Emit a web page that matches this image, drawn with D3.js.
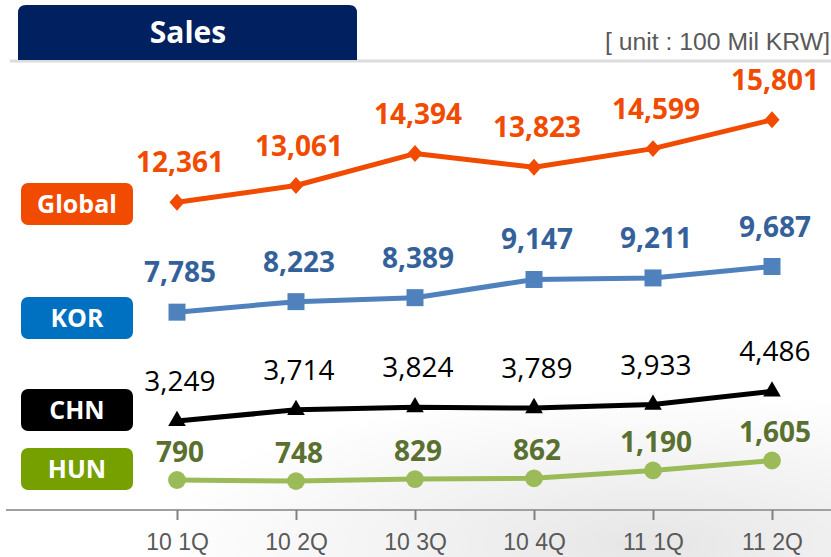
<!DOCTYPE html>
<html>
<head>
<meta charset="utf-8">
<script src="https://cdn.jsdelivr.net/npm/d3@7"></script>
<style>
body { margin: 0; background: #fff; }
</style>
</head>
<body>
<div id="chart"></div>
<script>
// quarterly sales, unit: 100 Mil KRW
var quarters = ["10 1Q", "10 2Q", "10 3Q", "10 4Q", "11 1Q", "11 2Q"];
var seriesNames = ["Global", "KOR", "CHN", "HUN"];
var globalSales = [12361, 13061, 14394, 13823, 14599, 15801];
var korSales = [7785, 8223, 8389, 9147, 9211, 9687];
var chnSales = [3249, 3714, 3824, 3789, 3933, 4486];
var hunSales = [790, 748, 829, 862, 1190, 1605];

var width = 831, height = 557;

var svg = d3.select("#chart").append("svg")
    .attr("width", width)
    .attr("height", height)
    .style("font-family", "'Open Sans', 'Noto Sans', sans-serif");

// faint grey backdrop in the lower part
var defs = svg.append("defs");
var bg = defs.append("radialGradient")
    .attr("id", "bg-grad")
    .attr("cx", "78%").attr("cy", "95%").attr("r", "60%");
bg.append("stop").attr("offset", "0%").attr("stop-color", "#e6e6e6");
bg.append("stop").attr("offset", "55%").attr("stop-color", "#f4f4f4");
bg.append("stop").attr("offset", "100%").attr("stop-color", "#ffffff");

svg.append("rect")
    .attr("width", width).attr("height", height)
    .attr("fill", "#fff");
svg.append("rect")
    .attr("y", 300)
    .attr("width", width).attr("height", height - 300)
    .attr("fill", "url(#bg-grad)");

// header
svg.append("line")
    .attr("x1", 10).attr("x2", width)
    .attr("y1", 61).attr("y2", 61)
    .attr("stroke", "#dcdcdc")
    .attr("stroke-width", 3);

var bx0 = 18, bx1 = 357, by0 = 5, by1 = 60, r = 8;
svg.append("path")
    .attr("d", "M" + bx0 + "," + by1 + "V" + (by0 + r) + "Q" + bx0 + "," + by0 + " " + (bx0 + r) + "," + by0 +
        "H" + (bx1 - r) + "Q" + bx1 + "," + by0 + " " + bx1 + "," + (by0 + r) + "V" + by1 + "Z")
    .attr("fill", "#01205f");

svg.append("text")
    .text("Sales")
    .attr("x", 188)
    .attr("y", 43)
    .attr("text-anchor", "middle")
    .attr("fill", "#fff")
    .attr("font-weight", "bold")
    .attr("font-size", "30px");

svg.append("text")
    .text("[ unit : 100 Mil KRW]")
    .attr("x", 830)
    .attr("y", 50)
    .attr("text-anchor", "end")
    .attr("textLength", 225)
    .attr("lengthAdjust", "spacingAndGlyphs")
    .attr("fill", "#595959")
    .attr("font-family", "'Liberation Sans', Arial, sans-serif")
    .attr("font-size", "23px");

// scales
var xScale = d3.scalePoint().domain(quarters).range([177, 772]);
var yScale = d3.scaleLinear().domain([0, 16000]).range([499, 115]);

// x axis
svg.append("line")
    .attr("x1", 6).attr("x2", width)
    .attr("y1", 510).attr("y2", 510)
    .attr("stroke", "#a0a0a0")
    .attr("stroke-width", 2);

var xAxis = svg.append("g")
    .attr("transform", "translate(0,510)")
    .call(d3.axisBottom(xScale).tickSizeInner(10).tickSizeOuter(0).tickPadding(14));
xAxis.select(".domain").remove();
xAxis.selectAll(".tick line")
    .attr("stroke", "#808080")
    .attr("stroke-width", 2);
xAxis.selectAll(".tick text")
    .attr("fill", "#595959")
    .attr("font-family", "'Liberation Sans', Arial, sans-serif")
    .attr("font-size", "23px");

// series styling
var seriesData = [globalSales, korSales, chnSales, hunSales];
var lineColors = ["#f04b00", "#4f81bd", "#000000", "#9bbb59"];
var labelColors = ["#f04b00", "#34619a", "#000000", "#5a7030"];
var badgeColors = ["#f04b00", "#0070c0", "#000000", "#76a000"];
var badgeY = [204, 318, 410, 469];

var series = seriesNames.map(function (name, i) {
    return {
        name: name,
        values: seriesData[i].map(function (v, j) { return { q: quarters[j], v: v }; }),
        line: lineColors[i],
        label: labelColors[i],
        badge: badgeColors[i],
        bold: name != "CHN",
        labelDy: name == "HUN" ? -18 : -30
    };
});

var lineGenerator = d3.line()
    .x(function (d) { return xScale(d.q); })
    .y(function (d) { return yScale(d.v); });

var markerShapes = {
    "Global": d3.symbol().type(d3.symbolSquare).size(115),
    "KOR": d3.symbol().type(d3.symbolSquare).size(289),
    "CHN": d3.symbol().type(d3.symbolTriangle).size(135),
    "HUN": d3.symbol().type(d3.symbolCircle).size(250)
};

series.forEach(function (s) {
    var g = svg.append("g").attr("class", "series");

    g.append("path")
        .attr("d", lineGenerator(s.values))
        .attr("fill", "none")
        .attr("stroke", s.line)
        .attr("stroke-width", 5)
        .attr("stroke-linejoin", "round");

    g.selectAll(".marker").data(s.values)
        .enter().append("path")
        .attr("class", "marker")
        .attr("d", markerShapes[s.name])
        .attr("transform", function (d) {
            var t = "translate(" + xScale(d.q) + "," + yScale(d.v) + ")";
            if (s.name == "Global") t += " scale(1,1.12) rotate(45)";
            return t;
        })
        .attr("fill", s.line);

    g.selectAll(".val").data(s.values)
        .enter().append("text")
        .attr("class", "val")
        .text(function (d) { return d3.format(",")(d.v); })
        .attr("x", function (d) { return xScale(d.q) + 3; })
        .attr("y", function (d) { return yScale(d.v) + s.labelDy; })
        .attr("text-anchor", "middle")
        .attr("fill", s.label)
        .attr("font-weight", s.bold ? "bold" : "normal")
        .attr("font-size", "28px");
});

// legend badges
series.forEach(function (s, i) {
    svg.append("rect")
        .attr("x", 21)
        .attr("y", badgeY[i] - 21)
        .attr("width", 112)
        .attr("height", 42)
        .attr("rx", 7)
        .attr("fill", s.badge);
    svg.append("text")
        .text(s.name)
        .attr("x", 77)
        .attr("y", badgeY[i])
        .attr("dy", "0.36em")
        .attr("text-anchor", "middle")
        .attr("fill", "#fff")
        .attr("font-weight", "bold")
        .attr("font-size", "25px");
});
</script>
</body>
</html>
